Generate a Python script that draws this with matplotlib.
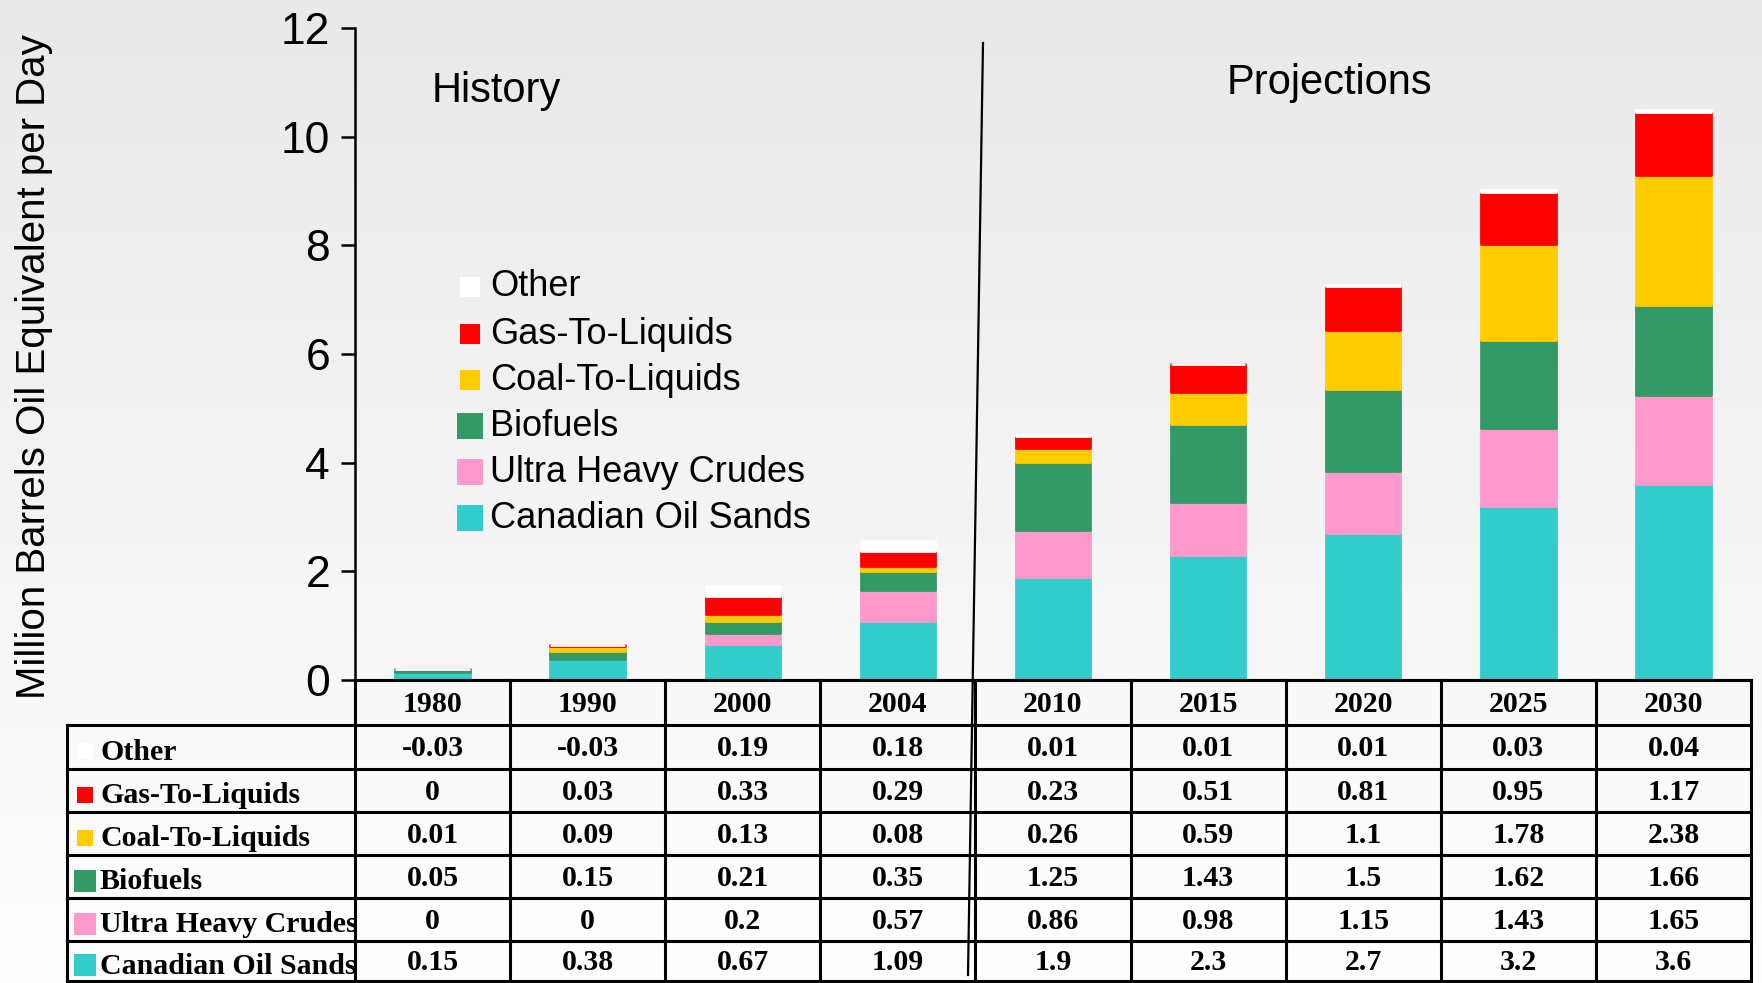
import numpy as np
import matplotlib
matplotlib.use("Agg")
import matplotlib.pyplot as plt

# --- data ---
years = ["1980", "1990", "2000", "2004", "2010", "2015", "2020", "2025", "2030"]
canadian_oil_sands = [0.15, 0.38, 0.67, 1.09, 1.9, 2.3, 2.7, 3.2, 3.6]
ultra_heavy_crudes = [0, 0, 0.2, 0.57, 0.86, 0.98, 1.15, 1.43, 1.65]
biofuels = [0.05, 0.15, 0.21, 0.35, 1.25, 1.43, 1.5, 1.62, 1.66]
coal_to_liquids = [0.01, 0.09, 0.13, 0.08, 0.26, 0.59, 1.1, 1.78, 2.38]
gas_to_liquids = [0, 0.03, 0.33, 0.29, 0.23, 0.51, 0.81, 0.95, 1.17]
other = [-0.03, -0.03, 0.19, 0.18, 0.01, 0.01, 0.01, 0.03, 0.04]

series_names = ["Canadian Oil Sands", "Ultra Heavy Crudes", "Biofuels",
                "Coal-To-Liquids", "Gas-To-Liquids", "Other"]
series_values = [canadian_oil_sands, ultra_heavy_crudes, biofuels,
                 coal_to_liquids, gas_to_liquids, other]
series_colors = ["#33CCCC", "#FF99CC", "#339966", "#FFCC00", "#FF0000", "#FFFFFF"]
marker_big = [True, True, True, False, False, False]

W, H = 1762, 983
fig = plt.figure(figsize=(W / 100, H / 100), dpi=100)

# background gradient
bg = fig.add_axes([0, 0, 1, 1], zorder=-10)
grad = np.linspace(0.91, 0.995, 256).reshape(-1, 1)
bg.imshow(grad, cmap="gray", vmin=0, vmax=1, aspect="auto", extent=[0, 1, 0, 1])
bg.set_axis_off()

# --- main chart ---
x0, x1, y0, y1 = 355, 1751, 680, 28
ax = fig.add_axes([x0 / W, 1 - y0 / H, (x1 - x0) / W, (y0 - y1) / H])
ax.set_facecolor("none")
x = np.arange(len(years))
bottom = np.zeros(len(years))
for vals, col in zip(series_values, series_colors):
    v = np.clip(np.array(vals, dtype=float), 0, None)
    ax.bar(x, v, 0.48, bottom=bottom, color=col, edgecolor=col,
           linewidth=2, joinstyle="round")
    bottom += v

ax.set_xlim(-0.5, len(years) - 0.5)
ax.set_ylim(0, 12)
ax.set_yticks(range(0, 13, 2))
ax.set_xticks([])
for s in ["top", "right"]:
    ax.spines[s].set_visible(False)
ax.spines["left"].set_linewidth(1.8)
ax.spines["bottom"].set_linewidth(2.2)
ax.tick_params(axis="y", length=10, width=1.8, labelsize=32, pad=8)
for lab in ax.get_yticklabels():
    lab.set_family("Liberation Sans")

fig.text(34 / W, 1 - 367 / H, "Million Barrels Oil Equivalent per Day",
         rotation=90, ha="center", va="center", fontsize=29,
         family="Liberation Sans")

# --- overlay in pixel coords: legend, table, divider ---
ov = fig.add_axes([0, 0, 1, 1], zorder=10)
ov.set_xlim(0, W)
ov.set_ylim(H, 0)
ov.set_axis_off()
ov.set_facecolor("none")

ov.text(432, 91, "History", fontsize=30, va="center", family="Liberation Sans")
ov.text(1227, 83, "Projections", fontsize=30, va="center", family="Liberation Sans")

# legend (top = Other)
leg_y = [287, 334, 380, 426, 472, 518]
for i, k in enumerate(reversed(range(len(series_names)))):
    size = 350 if marker_big[k] else 190
    ov.scatter([470], [leg_y[i]], s=size, marker="s", color=series_colors[k],
               linewidths=0)
    ov.text(490, leg_y[i], series_names[k], fontsize=26, va="center",
            family="Liberation Sans")

# divider line
ov.plot([983, 968], [43, 975], color="black", lw=1.6)

# table
col_w = (x1 - x0) / len(years)
col_edges = [x0 + i * col_w for i in range(len(years) + 1)]
row_edges = [725, 769, 812, 855, 898, 941, 981]
lw = 2.2
ov.plot([x0, x1], [y0, y0], color="black", lw=lw)
for cx in col_edges:
    ov.plot([cx, cx], [y0, row_edges[-1]], color="black", lw=lw)
ov.plot([67, 67], [row_edges[0], row_edges[-1]], color="black", lw=lw)
for ry in row_edges:
    ov.plot([67, x1], [ry, ry], color="black", lw=lw)

tfont = dict(family="Liberation Serif", weight="bold", fontsize=21.5)
for i, yr in enumerate(years):
    ov.text(x0 + (i + 0.5) * col_w, (y0 + row_edges[0]) / 2 + 2, yr,
            ha="center", va="center", **tfont)

for r, k in enumerate(reversed(range(len(series_names)))):
    cy = (row_edges[r] + row_edges[r + 1]) / 2
    size = 230 if marker_big[k] else 120
    ov.scatter([85], [cy + 4], s=size, marker="s", color=series_colors[k],
               linewidths=0)
    ov.text(100, cy + 5, series_names[k], ha="left", va="center", **tfont)
    for i, v in enumerate(series_values[k]):
        ov.text(x0 + (i + 0.5) * col_w, cy + 2, f"{v:g}", ha="center",
                va="center", **tfont)

fig.savefig("out.png", dpi=100)
